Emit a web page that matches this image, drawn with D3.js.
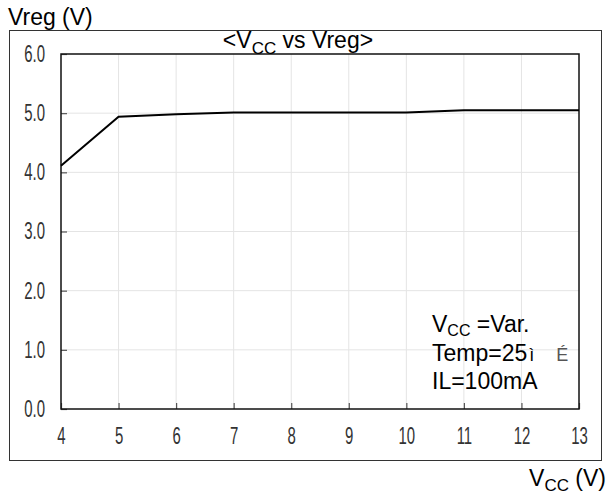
<!DOCTYPE html>
<html><head><meta charset="utf-8">
<script src="https://cdn.jsdelivr.net/npm/d3@7"></script>
<style>body{margin:0;background:#fff}</style>
</head><body>
<svg id="c" width="608" height="494"></svg>
<script>
const vcc = [4, 5, 6, 7, 8, 9, 10, 11, 12, 13];
const vreg = [4.11, 4.94, 4.98, 5.01, 5.01, 5.01, 5.01, 5.05, 5.05, 5.05];
const xTicks = [4, 5, 6, 7, 8, 9, 10, 11, 12, 13];
const yTicks = [0, 1, 2, 3, 4, 5, 6];

const svg = d3.select("#c");
const m = {l: 61, r: 579, t: 54, b: 409};
const x = d3.scaleLinear().domain([4, 13]).range([m.l, m.r]);
const y = d3.scaleLinear().domain([0, 6]).range([m.b, m.t]);
const numFont = "'Liberation Sans',Arial,sans-serif";
const txtFont = "Arial,'Liberation Sans',sans-serif";
const sx = 0.65;

// outer frame
svg.append("rect").attr("x", 9.5).attr("y", 30.5).attr("width", 592).attr("height", 430)
  .attr("fill", "none").attr("stroke", "#333").attr("stroke-width", 1);

// grid
svg.append("g").selectAll("line").data(xTicks.slice(1, -1)).join("line")
  .attr("x1", d => x(d)).attr("x2", d => x(d)).attr("y1", m.t).attr("y2", m.b)
  .attr("stroke", "#e4e4e4").attr("stroke-width", 1);
svg.append("g").selectAll("line").data(yTicks.slice(1, -1)).join("line")
  .attr("x1", m.l).attr("x2", m.r).attr("y1", d => y(d)).attr("y2", d => y(d))
  .attr("stroke", "#e4e4e4").attr("stroke-width", 1);

// axes
const ya = svg.append("g").attr("transform", `translate(${m.l},0)`)
  .call(d3.axisLeft(y).tickValues(yTicks).tickSize(-6).tickPadding(16).tickFormat(d3.format(".1f")));
const xa = svg.append("g").attr("transform", `translate(0,${m.b})`)
  .call(d3.axisBottom(x).tickValues(xTicks).tickSize(-6).tickPadding(19).tickFormat(d3.format("d")));
[ya, xa].forEach(a => {
  a.select(".domain").remove();
  a.selectAll(".tick line").attr("stroke", "#555").attr("stroke-width", 1.2);
  a.selectAll("text").attr("font-family", numFont).attr("font-size", 23).attr("fill", "#333")
    .attr("transform", function() {
      const tx = +d3.select(this).attr("x") || 0;
      return `translate(${tx},0) scale(${sx},1) translate(${-tx},0)`;
    });
});

// plot border
svg.append("rect").attr("x", m.l).attr("y", m.t).attr("width", m.r - m.l).attr("height", m.b - m.t)
  .attr("fill", "none").attr("stroke", "#111").attr("stroke-width", 1.5);

// line
svg.append("path").datum(vcc.map((v, i) => [v, vreg[i]]))
  .attr("d", d3.line().x(d => x(d[0])).y(d => y(d[1])))
  .attr("fill", "none").attr("stroke", "#000").attr("stroke-width", 2);

// texts
svg.append("text").attr("x", 8).attr("y", 25).attr("font-family", txtFont).attr("font-size", 23)
  .text("Vreg (V)");

const t = svg.append("text").attr("x", 298).attr("y", 48).attr("text-anchor", "middle")
  .attr("font-family", txtFont).attr("font-size", 23);
t.append("tspan").text("<V");
t.append("tspan").attr("font-size", 17).attr("dy", 6).text("CC");
t.append("tspan").attr("dy", -6).text(" vs Vreg>");

const xl = svg.append("text").attr("x", 606).attr("y", 486).attr("text-anchor", "end")
  .attr("font-family", txtFont).attr("font-size", 23);
xl.append("tspan").text("V");
xl.append("tspan").attr("font-size", 17).attr("dy", 5).text("CC");
xl.append("tspan").attr("dy", -5).text(" (V)");

const a1 = svg.append("text").attr("x", 432).attr("y", 332).attr("font-family", txtFont).attr("font-size", 23);
a1.append("tspan").text("V");
a1.append("tspan").attr("font-size", 16).attr("dy", 4).text("CC");
a1.append("tspan").attr("dy", -4).text(" =Var.");
const a2 = svg.append("text").attr("x", 432).attr("y", 361).attr("font-family", txtFont).attr("font-size", 23);
a2.append("tspan").text("Temp=25");
a2.append("tspan").attr("font-size", 18).attr("font-weight", 300).attr("dx", 2).text("ì");
a2.append("tspan").attr("font-size", 18).attr("fill", "#555").attr("dx", 22).text("É");
svg.append("text").attr("x", 432).attr("y", 389).attr("font-family", txtFont).attr("font-size", 23)
  .text("IL=100mA");
</script>
</body></html>
